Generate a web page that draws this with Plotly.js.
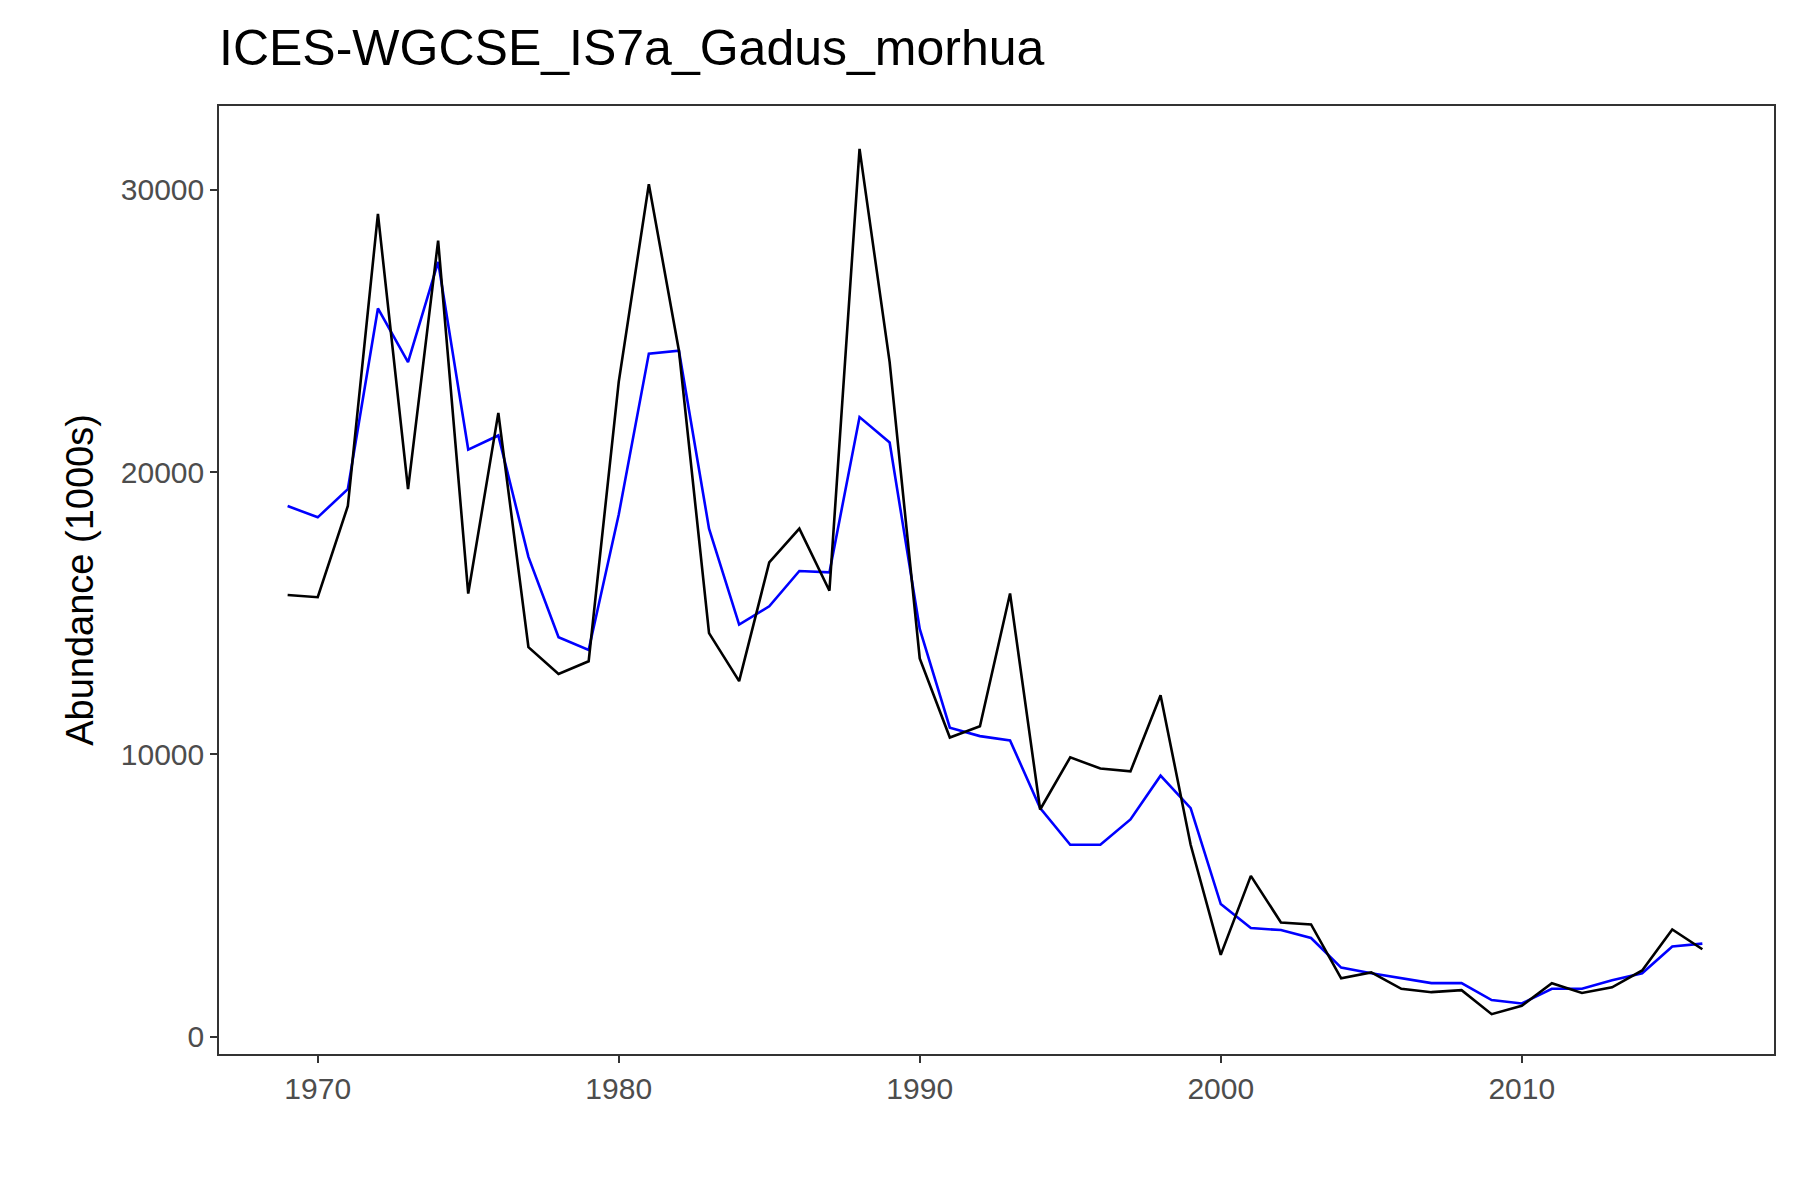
<!DOCTYPE html>
<html><head><script src="https://cdn.plot.ly/plotly-3.0.1.min.js"></script>
<style>body{margin:0}</style></head><body><div id="c" style="width:1800px;height:1200px"></div>
<script>
const years = Array.from({length:48},(_,i)=>1969+i);
const blackSeries = [15650,15570,18800,29150,19400,28200,15700,22100,13800,12850,13300,23200,30200,24300,14300,12600,16800,18000,15800,31450,23900,13400,10600,11000,15700,8050,9900,9500,9400,12100,6800,2900,5700,4050,3980,2070,2280,1700,1580,1650,800,1100,1900,1550,1750,2350,3800,3100];
const blueSeries = [18800,18400,19400,25800,23900,27450,20800,21300,17000,14150,13700,18500,24200,24300,18000,14600,15250,16500,16450,21950,21050,14450,10950,10650,10500,8100,6800,6800,7700,9250,8100,4700,3850,3780,3500,2450,2250,2070,1900,1900,1300,1180,1700,1700,2000,2250,3200,3300];
const xTicks = [1970,1980,1990,2000,2010];
const yTicks = [0,10000,20000,30000];
Plotly.newPlot('c',[
 {x:years,y:blueSeries,mode:'lines',line:{color:'#0000ff',width:2.6},showlegend:false},
 {x:years,y:blackSeries,mode:'lines',line:{color:'#000000',width:2.6},showlegend:false}
],{
 width:1800,height:1200,paper_bgcolor:'#fff',plot_bgcolor:'#fff',
 margin:{l:219,r:26,t:106,b:146},
 font:{family:'Liberation Sans, Arial, sans-serif'},
 title:{text:'ICES-WGCSE_IS7a_Gadus_morhua',x:0,xref:'paper',xanchor:'left',y:0.975,yref:'container',yanchor:'top',font:{size:50,color:'#000'}},
 xaxis:{range:[1966.72,2018.38],tickvals:xTicks,ticks:'outside',ticklen:7,tickcolor:'#333',tickwidth:1.5,showgrid:false,zeroline:false,showline:true,mirror:true,linecolor:'#333',linewidth:1.5,tickfont:{size:30,color:'#4d4d4d'}},
 yaxis:{range:[-610,32970],tickvals:yTicks,tickformat:'d',ticks:'outside',ticklen:7,tickcolor:'#333',tickwidth:1.5,showgrid:false,zeroline:false,showline:true,mirror:true,linecolor:'#333',linewidth:1.5,tickfont:{size:30,color:'#4d4d4d'},title:{text:'Abundance (1000s)',font:{size:38,color:'#000'},standoff:16}}
},{displayModeBar:false});
</script></body></html>
